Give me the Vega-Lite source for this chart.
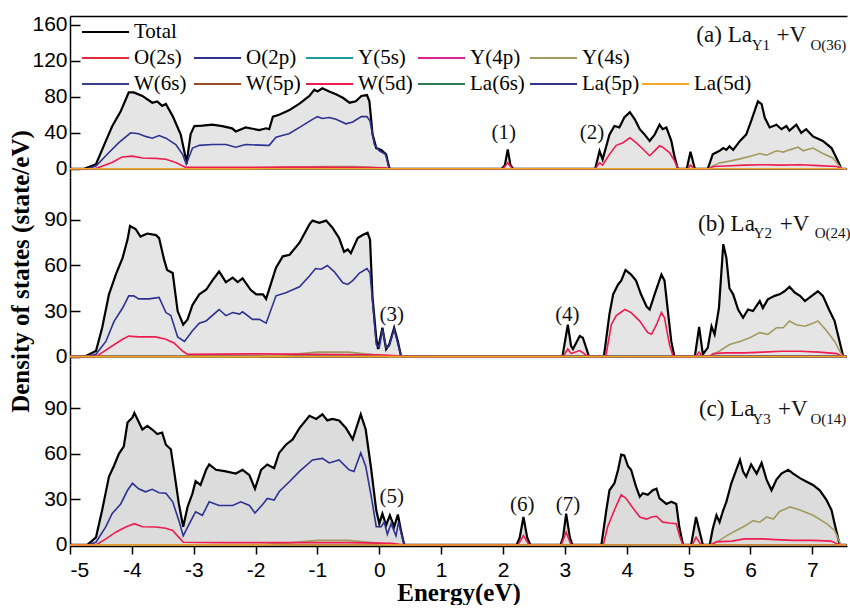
{
"$schema":"https://vega.github.io/schema/vega-lite/v6.json",
"background":"white",
"padding":{"left":8,"top":13,"right":0,"bottom":0},
"spacing":0,
"bounds":"flush",
"config":{"view":{"stroke":null},
"axis":{"grid":false,"domainColor":"#000","domainWidth":1.5,"tickColor":"#000","tickWidth":1.5,"labelFont":"Liberation Sans","labelFontSize":21,"labelColor":"#000","titleFont":"Liberation Serif","titleFontWeight":"bold","titleFontSize":25,"titleColor":"#000"},
"axisY":{"tickSize":-10,"labelPadding":13,"titlePadding":10}},
"resolve":{"scale":{"color":"independent"},"legend":{"color":"independent"}},
"datasets":{
"a":[
{"s":"Total","x":-5,"y":0},{"s":"Total","x":-4.77,"y":0},{"s":"Total","x":-4.58,"y":5},{"s":"Total","x":-4.42,"y":31},{"s":"Total","x":-4.32,"y":47},{"s":"Total","x":-4.18,"y":64},{"s":"Total","x":-4.05,"y":85},{"s":"Total","x":-3.97,"y":85},{"s":"Total","x":-3.83,"y":81},{"s":"Total","x":-3.67,"y":73.5},{"s":"Total","x":-3.59,"y":75},{"s":"Total","x":-3.51,"y":70},{"s":"Total","x":-3.45,"y":72},{"s":"Total","x":-3.34,"y":58.6},{"s":"Total","x":-3.21,"y":38},{"s":"Total","x":-3.13,"y":12},{"s":"Total","x":-3.11,"y":9},{"s":"Total","x":-3.05,"y":38.6},{"s":"Total","x":-2.99,"y":47.5},{"s":"Total","x":-2.86,"y":48},{"s":"Total","x":-2.7,"y":49},{"s":"Total","x":-2.54,"y":47.5},{"s":"Total","x":-2.38,"y":45},{"s":"Total","x":-2.32,"y":41.5},{"s":"Total","x":-2.16,"y":46},{"s":"Total","x":-2.05,"y":44.5},{"s":"Total","x":-1.94,"y":43},{"s":"Total","x":-1.83,"y":45},{"s":"Total","x":-1.78,"y":44},{"s":"Total","x":-1.72,"y":58},{"s":"Total","x":-1.62,"y":60},{"s":"Total","x":-1.46,"y":65},{"s":"Total","x":-1.29,"y":72.5},{"s":"Total","x":-1.13,"y":81},{"s":"Total","x":-1.05,"y":88},{"s":"Total","x":-1,"y":86},{"s":"Total","x":-0.92,"y":89.5},{"s":"Total","x":-0.81,"y":86},{"s":"Total","x":-0.7,"y":83},{"s":"Total","x":-0.59,"y":79},{"s":"Total","x":-0.48,"y":73.5},{"s":"Total","x":-0.38,"y":75},{"s":"Total","x":-0.29,"y":81},{"s":"Total","x":-0.2,"y":82},{"s":"Total","x":-0.16,"y":75},{"s":"Total","x":-0.11,"y":38.5},{"s":"Total","x":-0.05,"y":23},{"s":"Total","x":0.03,"y":21},{"s":"Total","x":0.11,"y":16},{"s":"Total","x":0.16,"y":1},{"s":"Total","x":0.18,"y":0},{"s":"Total","x":1.98,"y":0},{"s":"Total","x":2.03,"y":4},{"s":"Total","x":2.076,"y":21.6},{"s":"Total","x":2.12,"y":4},{"s":"Total","x":2.16,"y":0},{"s":"Total","x":3.49,"y":0},{"s":"Total","x":3.56,"y":19.7},{"s":"Total","x":3.61,"y":10.4},{"s":"Total","x":3.72,"y":38},{"s":"Total","x":3.8,"y":47.5},{"s":"Total","x":3.88,"y":46},{"s":"Total","x":3.96,"y":57},{"s":"Total","x":4.05,"y":63},{"s":"Total","x":4.13,"y":55},{"s":"Total","x":4.21,"y":44},{"s":"Total","x":4.29,"y":38},{"s":"Total","x":4.37,"y":31},{"s":"Total","x":4.45,"y":38},{"s":"Total","x":4.53,"y":49},{"s":"Total","x":4.58,"y":44},{"s":"Total","x":4.64,"y":46},{"s":"Total","x":4.72,"y":31},{"s":"Total","x":4.77,"y":14},{"s":"Total","x":4.82,"y":1},{"s":"Total","x":4.84,"y":0},{"s":"Total","x":4.97,"y":0},{"s":"Total","x":5.03,"y":19},{"s":"Total","x":5.1,"y":0},{"s":"Total","x":5.31,"y":0},{"s":"Total","x":5.39,"y":16},{"s":"Total","x":5.5,"y":20},{"s":"Total","x":5.56,"y":23},{"s":"Total","x":5.61,"y":21},{"s":"Total","x":5.66,"y":25},{"s":"Total","x":5.72,"y":21},{"s":"Total","x":5.83,"y":31},{"s":"Total","x":5.93,"y":38},{"s":"Total","x":6.01,"y":53},{"s":"Total","x":6.12,"y":75},{"s":"Total","x":6.18,"y":72},{"s":"Total","x":6.23,"y":57},{"s":"Total","x":6.31,"y":46},{"s":"Total","x":6.42,"y":49},{"s":"Total","x":6.5,"y":44},{"s":"Total","x":6.58,"y":47.5},{"s":"Total","x":6.63,"y":42.5},{"s":"Total","x":6.74,"y":49},{"s":"Total","x":6.82,"y":40},{"s":"Total","x":6.9,"y":44},{"s":"Total","x":7.01,"y":36},{"s":"Total","x":7.17,"y":31},{"s":"Total","x":7.31,"y":23},{"s":"Total","x":7.39,"y":12},{"s":"Total","x":7.47,"y":0},{"s":"Total","x":7.55,"y":0},
{"s":"O(2s)","x":-5,"y":0},{"s":"O(2s)","x":7.55,"y":0},{"s":"Y(5s)","x":-5,"y":0},{"s":"Y(5s)","x":7.55,"y":0},{"s":"Y(4p)","x":-5,"y":0},{"s":"Y(4p)","x":7.55,"y":0},{"s":"W(6s)","x":-5,"y":0},{"s":"W(6s)","x":7.55,"y":0},{"s":"W(5p)","x":-5,"y":0},{"s":"W(5p)","x":7.55,"y":0},{"s":"La(6s)","x":-5,"y":0},{"s":"La(6s)","x":7.55,"y":0},{"s":"La(5p)","x":-5,"y":0},{"s":"La(5p)","x":7.55,"y":0},{"s":"La(5d)","x":-5,"y":0},{"s":"La(5d)","x":7.55,"y":0},
{"s":"Y(4s)","x":-5,"y":0},{"s":"Y(4s)","x":-2.2,"y":0},{"s":"Y(4s)","x":-1.5,"y":1.5},{"s":"Y(4s)","x":-0.9,"y":2.5},{"s":"Y(4s)","x":-0.4,"y":2.5},{"s":"Y(4s)","x":-0.1,"y":1.5},{"s":"Y(4s)","x":0.15,"y":0},{"s":"Y(4s)","x":5.33,"y":0},{"s":"Y(4s)","x":5.39,"y":3},{"s":"Y(4s)","x":5.5,"y":6.5},{"s":"Y(4s)","x":5.66,"y":8.5},{"s":"Y(4s)","x":5.83,"y":11},{"s":"Y(4s)","x":6,"y":14},{"s":"Y(4s)","x":6.15,"y":17},{"s":"Y(4s)","x":6.26,"y":15},{"s":"Y(4s)","x":6.42,"y":20},{"s":"Y(4s)","x":6.53,"y":18.5},{"s":"Y(4s)","x":6.63,"y":21},{"s":"Y(4s)","x":6.77,"y":24},{"s":"Y(4s)","x":6.85,"y":20},{"s":"Y(4s)","x":7.01,"y":23},{"s":"Y(4s)","x":7.17,"y":17},{"s":"Y(4s)","x":7.33,"y":12},{"s":"Y(4s)","x":7.45,"y":2},{"s":"Y(4s)","x":7.48,"y":0},{"s":"Y(4s)","x":7.55,"y":0},
{"s":"O(2p)","x":-5,"y":0},{"s":"O(2p)","x":-4.72,"y":0},{"s":"O(2p)","x":-4.58,"y":3},{"s":"O(2p)","x":-4.37,"y":18},{"s":"O(2p)","x":-4.21,"y":29},{"s":"O(2p)","x":-4.02,"y":40},{"s":"O(2p)","x":-3.89,"y":39},{"s":"O(2p)","x":-3.78,"y":36},{"s":"O(2p)","x":-3.67,"y":34},{"s":"O(2p)","x":-3.56,"y":37},{"s":"O(2p)","x":-3.45,"y":34},{"s":"O(2p)","x":-3.29,"y":27},{"s":"O(2p)","x":-3.18,"y":16},{"s":"O(2p)","x":-3.12,"y":5},{"s":"O(2p)","x":-3.02,"y":23},{"s":"O(2p)","x":-2.91,"y":26},{"s":"O(2p)","x":-2.7,"y":27},{"s":"O(2p)","x":-2.48,"y":27},{"s":"O(2p)","x":-2.32,"y":24},{"s":"O(2p)","x":-2.16,"y":27},{"s":"O(2p)","x":-1.83,"y":26},{"s":"O(2p)","x":-1.78,"y":26},{"s":"O(2p)","x":-1.67,"y":35},{"s":"O(2p)","x":-1.51,"y":38},{"s":"O(2p)","x":-1.46,"y":39},{"s":"O(2p)","x":-1.29,"y":46},{"s":"O(2p)","x":-1.08,"y":55},{"s":"O(2p)","x":-1,"y":58},{"s":"O(2p)","x":-0.92,"y":56},{"s":"O(2p)","x":-0.81,"y":57},{"s":"O(2p)","x":-0.7,"y":55},{"s":"O(2p)","x":-0.54,"y":50},{"s":"O(2p)","x":-0.43,"y":52},{"s":"O(2p)","x":-0.29,"y":58},{"s":"O(2p)","x":-0.2,"y":58},{"s":"O(2p)","x":-0.15,"y":53},{"s":"O(2p)","x":-0.08,"y":27},{"s":"O(2p)","x":0,"y":20},{"s":"O(2p)","x":0.1,"y":16},{"s":"O(2p)","x":0.16,"y":1},{"s":"O(2p)","x":0.18,"y":0},{"s":"O(2p)","x":7.55,"y":0},
{"s":"W(5d)","x":-5,"y":0},{"s":"W(5d)","x":-4.6,"y":0},{"s":"W(5d)","x":-4.55,"y":1},{"s":"W(5d)","x":-4.32,"y":7},{"s":"W(5d)","x":-4.16,"y":13},{"s":"W(5d)","x":-3.99,"y":14},{"s":"W(5d)","x":-3.83,"y":12},{"s":"W(5d)","x":-3.62,"y":11.5},{"s":"W(5d)","x":-3.45,"y":10.5},{"s":"W(5d)","x":-3.29,"y":7},{"s":"W(5d)","x":-3.13,"y":1.5},{"s":"W(5d)","x":-2.5,"y":1.5},{"s":"W(5d)","x":-1.5,"y":1.8},{"s":"W(5d)","x":-0.5,"y":1.5},{"s":"W(5d)","x":0.1,"y":1},{"s":"W(5d)","x":0.18,"y":0},{"s":"W(5d)","x":2,"y":0},{"s":"W(5d)","x":2.076,"y":6.7},{"s":"W(5d)","x":2.15,"y":0},{"s":"W(5d)","x":3.49,"y":0},{"s":"W(5d)","x":3.56,"y":6.5},{"s":"W(5d)","x":3.61,"y":4},{"s":"W(5d)","x":3.72,"y":16},{"s":"W(5d)","x":3.83,"y":26},{"s":"W(5d)","x":3.94,"y":29},{"s":"W(5d)","x":4.05,"y":34.5},{"s":"W(5d)","x":4.15,"y":29},{"s":"W(5d)","x":4.26,"y":22},{"s":"W(5d)","x":4.37,"y":14.5},{"s":"W(5d)","x":4.53,"y":25.5},{"s":"W(5d)","x":4.58,"y":24},{"s":"W(5d)","x":4.69,"y":18},{"s":"W(5d)","x":4.77,"y":9},{"s":"W(5d)","x":4.83,"y":0},{"s":"W(5d)","x":4.98,"y":0},{"s":"W(5d)","x":5.03,"y":4},{"s":"W(5d)","x":5.09,"y":0},{"s":"W(5d)","x":5.33,"y":0},{"s":"W(5d)","x":5.4,"y":2.5},{"s":"W(5d)","x":5.6,"y":3},{"s":"W(5d)","x":5.9,"y":4},{"s":"W(5d)","x":6.2,"y":4.5},{"s":"W(5d)","x":6.5,"y":4},{"s":"W(5d)","x":6.8,"y":4.5},{"s":"W(5d)","x":7.1,"y":3.5},{"s":"W(5d)","x":7.4,"y":2.5},{"s":"W(5d)","x":7.47,"y":0},{"s":"W(5d)","x":7.55,"y":0}
],
"b":[
{"s":"Total","x":-5,"y":0},{"s":"Total","x":-4.77,"y":0},{"s":"Total","x":-4.58,"y":3.7},{"s":"Total","x":-4.48,"y":19},{"s":"Total","x":-4.37,"y":41},{"s":"Total","x":-4.26,"y":54},{"s":"Total","x":-4.15,"y":65},{"s":"Total","x":-4.07,"y":77},{"s":"Total","x":-4.03,"y":86},{"s":"Total","x":-3.94,"y":84},{"s":"Total","x":-3.86,"y":79},{"s":"Total","x":-3.75,"y":81},{"s":"Total","x":-3.61,"y":80},{"s":"Total","x":-3.56,"y":78},{"s":"Total","x":-3.48,"y":64},{"s":"Total","x":-3.43,"y":57},{"s":"Total","x":-3.34,"y":55},{"s":"Total","x":-3.26,"y":30},{"s":"Total","x":-3.17,"y":21},{"s":"Total","x":-3.1,"y":24.5},{"s":"Total","x":-3.02,"y":34},{"s":"Total","x":-2.91,"y":41},{"s":"Total","x":-2.8,"y":44},{"s":"Total","x":-2.7,"y":50},{"s":"Total","x":-2.59,"y":56},{"s":"Total","x":-2.48,"y":49},{"s":"Total","x":-2.37,"y":52},{"s":"Total","x":-2.29,"y":49},{"s":"Total","x":-2.21,"y":51.5},{"s":"Total","x":-2.08,"y":44},{"s":"Total","x":-1.99,"y":41},{"s":"Total","x":-1.88,"y":41},{"s":"Total","x":-1.83,"y":38},{"s":"Total","x":-1.67,"y":58.5},{"s":"Total","x":-1.56,"y":66},{"s":"Total","x":-1.45,"y":67},{"s":"Total","x":-1.29,"y":75},{"s":"Total","x":-1.13,"y":87},{"s":"Total","x":-1.08,"y":89.5},{"s":"Total","x":-0.97,"y":88},{"s":"Total","x":-0.86,"y":89.5},{"s":"Total","x":-0.76,"y":85},{"s":"Total","x":-0.65,"y":78},{"s":"Total","x":-0.57,"y":69},{"s":"Total","x":-0.51,"y":70.5},{"s":"Total","x":-0.46,"y":68},{"s":"Total","x":-0.35,"y":78},{"s":"Total","x":-0.27,"y":80},{"s":"Total","x":-0.19,"y":81.5},{"s":"Total","x":-0.15,"y":77},{"s":"Total","x":-0.11,"y":39},{"s":"Total","x":-0.05,"y":12.5},{"s":"Total","x":-0.02,"y":5},{"s":"Total","x":0.05,"y":19},{"s":"Total","x":0.11,"y":5},{"s":"Total","x":0.16,"y":8},{"s":"Total","x":0.24,"y":19},{"s":"Total","x":0.3,"y":10},{"s":"Total","x":0.35,"y":0.5},{"s":"Total","x":0.37,"y":0},{"s":"Total","x":2.96,"y":0},{"s":"Total","x":3.047,"y":21},{"s":"Total","x":3.1,"y":7},{"s":"Total","x":3.13,"y":5},{"s":"Total","x":3.24,"y":13.6},{"s":"Total","x":3.29,"y":12.5},{"s":"Total","x":3.39,"y":0},{"s":"Total","x":3.63,"y":0},{"s":"Total","x":3.72,"y":28},{"s":"Total","x":3.78,"y":41},{"s":"Total","x":3.86,"y":47.5},{"s":"Total","x":3.91,"y":50},{"s":"Total","x":3.98,"y":57},{"s":"Total","x":4.07,"y":54},{"s":"Total","x":4.15,"y":50},{"s":"Total","x":4.23,"y":41},{"s":"Total","x":4.32,"y":33},{"s":"Total","x":4.37,"y":31},{"s":"Total","x":4.45,"y":41},{"s":"Total","x":4.56,"y":54},{"s":"Total","x":4.61,"y":50},{"s":"Total","x":4.67,"y":28},{"s":"Total","x":4.72,"y":10},{"s":"Total","x":4.77,"y":0},{"s":"Total","x":5.1,"y":0},{"s":"Total","x":5.17,"y":19.5},{"s":"Total","x":5.23,"y":1.5},{"s":"Total","x":5.31,"y":6},{"s":"Total","x":5.37,"y":20},{"s":"Total","x":5.42,"y":14.7},{"s":"Total","x":5.49,"y":32},{"s":"Total","x":5.56,"y":74},{"s":"Total","x":5.61,"y":65},{"s":"Total","x":5.66,"y":45},{"s":"Total","x":5.72,"y":41},{"s":"Total","x":5.8,"y":31},{"s":"Total","x":5.88,"y":25.6},{"s":"Total","x":5.96,"y":31},{"s":"Total","x":6.04,"y":30},{"s":"Total","x":6.15,"y":36.6},{"s":"Total","x":6.2,"y":32},{"s":"Total","x":6.28,"y":37.7},{"s":"Total","x":6.39,"y":40},{"s":"Total","x":6.47,"y":41},{"s":"Total","x":6.55,"y":43},{"s":"Total","x":6.63,"y":46},{"s":"Total","x":6.72,"y":42},{"s":"Total","x":6.8,"y":40},{"s":"Total","x":6.88,"y":36.6},{"s":"Total","x":6.99,"y":40},{"s":"Total","x":7.09,"y":43},{"s":"Total","x":7.17,"y":40},{"s":"Total","x":7.28,"y":30},{"s":"Total","x":7.36,"y":23.4},{"s":"Total","x":7.44,"y":10},{"s":"Total","x":7.5,"y":0},{"s":"Total","x":7.55,"y":0},
{"s":"O(2s)","x":-5,"y":0},{"s":"O(2s)","x":7.55,"y":0},{"s":"Y(5s)","x":-5,"y":0},{"s":"Y(5s)","x":7.55,"y":0},{"s":"Y(4p)","x":-5,"y":0},{"s":"Y(4p)","x":7.55,"y":0},{"s":"W(6s)","x":-5,"y":0},{"s":"W(6s)","x":7.55,"y":0},{"s":"W(5p)","x":-5,"y":0},{"s":"W(5p)","x":7.55,"y":0},{"s":"La(6s)","x":-5,"y":0},{"s":"La(6s)","x":7.55,"y":0},{"s":"La(5p)","x":-5,"y":0},{"s":"La(5p)","x":7.55,"y":0},{"s":"La(5d)","x":-5,"y":0},{"s":"La(5d)","x":7.55,"y":0},
{"s":"Y(4s)","x":-5,"y":0},{"s":"Y(4s)","x":-2,"y":0},{"s":"Y(4s)","x":-1.4,"y":1.5},{"s":"Y(4s)","x":-1,"y":3},{"s":"Y(4s)","x":-0.5,"y":3},{"s":"Y(4s)","x":-0.15,"y":1.5},{"s":"Y(4s)","x":0.2,"y":0},{"s":"Y(4s)","x":5.33,"y":0},{"s":"Y(4s)","x":5.5,"y":3.7},{"s":"Y(4s)","x":5.66,"y":8},{"s":"Y(4s)","x":5.83,"y":10},{"s":"Y(4s)","x":5.99,"y":12.5},{"s":"Y(4s)","x":6.15,"y":15.8},{"s":"Y(4s)","x":6.28,"y":14.7},{"s":"Y(4s)","x":6.42,"y":19},{"s":"Y(4s)","x":6.53,"y":19},{"s":"Y(4s)","x":6.63,"y":23.4},{"s":"Y(4s)","x":6.74,"y":21},{"s":"Y(4s)","x":6.88,"y":20},{"s":"Y(4s)","x":7.01,"y":22},{"s":"Y(4s)","x":7.09,"y":23.4},{"s":"Y(4s)","x":7.23,"y":17},{"s":"Y(4s)","x":7.36,"y":10},{"s":"Y(4s)","x":7.47,"y":1.5},{"s":"Y(4s)","x":7.5,"y":0},{"s":"Y(4s)","x":7.55,"y":0},
{"s":"O(2p)","x":-5,"y":0},{"s":"O(2p)","x":-4.72,"y":0},{"s":"O(2p)","x":-4.58,"y":1.5},{"s":"O(2p)","x":-4.42,"y":10},{"s":"O(2p)","x":-4.29,"y":23},{"s":"O(2p)","x":-4.15,"y":32},{"s":"O(2p)","x":-4.05,"y":40},{"s":"O(2p)","x":-3.97,"y":40},{"s":"O(2p)","x":-3.89,"y":38},{"s":"O(2p)","x":-3.72,"y":38},{"s":"O(2p)","x":-3.56,"y":39},{"s":"O(2p)","x":-3.45,"y":29},{"s":"O(2p)","x":-3.37,"y":27},{"s":"O(2p)","x":-3.26,"y":13},{"s":"O(2p)","x":-3.15,"y":10},{"s":"O(2p)","x":-3.02,"y":17},{"s":"O(2p)","x":-2.91,"y":22},{"s":"O(2p)","x":-2.8,"y":23.5},{"s":"O(2p)","x":-2.59,"y":31},{"s":"O(2p)","x":-2.48,"y":27},{"s":"O(2p)","x":-2.37,"y":29},{"s":"O(2p)","x":-2.26,"y":28},{"s":"O(2p)","x":-2.21,"y":29.5},{"s":"O(2p)","x":-2.05,"y":24.5},{"s":"O(2p)","x":-1.94,"y":24.5},{"s":"O(2p)","x":-1.83,"y":22},{"s":"O(2p)","x":-1.67,"y":40},{"s":"O(2p)","x":-1.51,"y":42},{"s":"O(2p)","x":-1.29,"y":46},{"s":"O(2p)","x":-1.13,"y":53},{"s":"O(2p)","x":-1.03,"y":58},{"s":"O(2p)","x":-0.94,"y":57.5},{"s":"O(2p)","x":-0.84,"y":60},{"s":"O(2p)","x":-0.73,"y":56},{"s":"O(2p)","x":-0.59,"y":48.6},{"s":"O(2p)","x":-0.51,"y":47.5},{"s":"O(2p)","x":-0.43,"y":50},{"s":"O(2p)","x":-0.32,"y":55},{"s":"O(2p)","x":-0.2,"y":58},{"s":"O(2p)","x":-0.15,"y":55},{"s":"O(2p)","x":-0.11,"y":36.6},{"s":"O(2p)","x":-0.05,"y":8},{"s":"O(2p)","x":0,"y":6},{"s":"O(2p)","x":0.05,"y":18},{"s":"O(2p)","x":0.11,"y":6},{"s":"O(2p)","x":0.16,"y":7},{"s":"O(2p)","x":0.24,"y":18},{"s":"O(2p)","x":0.35,"y":0.5},{"s":"O(2p)","x":0.37,"y":0},{"s":"O(2p)","x":7.55,"y":0},
{"s":"W(5d)","x":-5,"y":0},{"s":"W(5d)","x":-4.6,"y":0},{"s":"W(5d)","x":-4.56,"y":0.5},{"s":"W(5d)","x":-4.32,"y":7},{"s":"W(5d)","x":-4.15,"y":11.4},{"s":"W(5d)","x":-4.05,"y":13.5},{"s":"W(5d)","x":-3.89,"y":13},{"s":"W(5d)","x":-3.62,"y":13},{"s":"W(5d)","x":-3.45,"y":11.4},{"s":"W(5d)","x":-3.32,"y":9},{"s":"W(5d)","x":-3.18,"y":3.7},{"s":"W(5d)","x":-3.1,"y":1.5},{"s":"W(5d)","x":-2,"y":1.8},{"s":"W(5d)","x":-1,"y":1.5},{"s":"W(5d)","x":0,"y":1.2},{"s":"W(5d)","x":0.3,"y":0.5},{"s":"W(5d)","x":0.37,"y":0},{"s":"W(5d)","x":2.97,"y":0},{"s":"W(5d)","x":3.047,"y":5},{"s":"W(5d)","x":3.1,"y":2},{"s":"W(5d)","x":3.24,"y":4},{"s":"W(5d)","x":3.38,"y":0},{"s":"W(5d)","x":3.66,"y":0},{"s":"W(5d)","x":3.75,"y":21},{"s":"W(5d)","x":3.83,"y":27},{"s":"W(5d)","x":3.97,"y":31},{"s":"W(5d)","x":4.07,"y":29},{"s":"W(5d)","x":4.21,"y":23.4},{"s":"W(5d)","x":4.34,"y":15.8},{"s":"W(5d)","x":4.4,"y":14.7},{"s":"W(5d)","x":4.48,"y":21},{"s":"W(5d)","x":4.56,"y":29},{"s":"W(5d)","x":4.61,"y":25.6},{"s":"W(5d)","x":4.69,"y":8},{"s":"W(5d)","x":4.75,"y":0},{"s":"W(5d)","x":5.11,"y":0},{"s":"W(5d)","x":5.17,"y":3},{"s":"W(5d)","x":5.22,"y":0},{"s":"W(5d)","x":5.33,"y":0},{"s":"W(5d)","x":5.4,"y":2},{"s":"W(5d)","x":5.6,"y":2.5},{"s":"W(5d)","x":5.9,"y":2.5},{"s":"W(5d)","x":6.2,"y":3},{"s":"W(5d)","x":6.5,"y":3.5},{"s":"W(5d)","x":6.8,"y":3.5},{"s":"W(5d)","x":7.1,"y":3},{"s":"W(5d)","x":7.4,"y":2},{"s":"W(5d)","x":7.48,"y":0},{"s":"W(5d)","x":7.55,"y":0}
],
"c":[
{"s":"Total","x":-5,"y":0},{"s":"Total","x":-4.72,"y":0},{"s":"Total","x":-4.58,"y":5},{"s":"Total","x":-4.48,"y":23},{"s":"Total","x":-4.37,"y":45},{"s":"Total","x":-4.29,"y":52},{"s":"Total","x":-4.21,"y":60},{"s":"Total","x":-4.13,"y":65},{"s":"Total","x":-4.07,"y":80.6},{"s":"Total","x":-3.99,"y":84},{"s":"Total","x":-3.96,"y":87},{"s":"Total","x":-3.9,"y":82},{"s":"Total","x":-3.83,"y":76},{"s":"Total","x":-3.75,"y":78.4},{"s":"Total","x":-3.67,"y":76},{"s":"Total","x":-3.59,"y":73},{"s":"Total","x":-3.51,"y":74},{"s":"Total","x":-3.45,"y":66},{"s":"Total","x":-3.37,"y":63},{"s":"Total","x":-3.32,"y":49.5},{"s":"Total","x":-3.24,"y":27},{"s":"Total","x":-3.17,"y":12},{"s":"Total","x":-3.1,"y":25},{"s":"Total","x":-3.02,"y":34},{"s":"Total","x":-2.97,"y":42},{"s":"Total","x":-2.89,"y":39.5},{"s":"Total","x":-2.8,"y":49.5},{"s":"Total","x":-2.75,"y":53},{"s":"Total","x":-2.64,"y":49.5},{"s":"Total","x":-2.48,"y":48.4},{"s":"Total","x":-2.32,"y":47},{"s":"Total","x":-2.21,"y":49.5},{"s":"Total","x":-2.1,"y":46},{"s":"Total","x":-2.01,"y":37},{"s":"Total","x":-1.91,"y":49.5},{"s":"Total","x":-1.81,"y":53},{"s":"Total","x":-1.7,"y":50.6},{"s":"Total","x":-1.62,"y":60.6},{"s":"Total","x":-1.51,"y":66},{"s":"Total","x":-1.4,"y":69.5},{"s":"Total","x":-1.29,"y":77},{"s":"Total","x":-1.13,"y":85},{"s":"Total","x":-1.02,"y":83},{"s":"Total","x":-0.92,"y":86},{"s":"Total","x":-0.84,"y":82},{"s":"Total","x":-0.76,"y":83},{"s":"Total","x":-0.65,"y":82},{"s":"Total","x":-0.54,"y":77},{"s":"Total","x":-0.43,"y":69.5},{"s":"Total","x":-0.38,"y":76},{"s":"Total","x":-0.3,"y":86},{"s":"Total","x":-0.22,"y":76},{"s":"Total","x":-0.13,"y":49.5},{"s":"Total","x":-0.05,"y":23},{"s":"Total","x":0,"y":14},{"s":"Total","x":0.05,"y":20.6},{"s":"Total","x":0.11,"y":13},{"s":"Total","x":0.17,"y":19.5},{"s":"Total","x":0.24,"y":12},{"s":"Total","x":0.3,"y":20},{"s":"Total","x":0.35,"y":9.5},{"s":"Total","x":0.4,"y":0.5},{"s":"Total","x":0.42,"y":0},{"s":"Total","x":2.22,"y":0},{"s":"Total","x":2.27,"y":5},{"s":"Total","x":2.33,"y":18.4},{"s":"Total","x":2.39,"y":5},{"s":"Total","x":2.44,"y":0},{"s":"Total","x":2.93,"y":0},{"s":"Total","x":2.97,"y":5},{"s":"Total","x":3.02,"y":20.6},{"s":"Total","x":3.08,"y":5},{"s":"Total","x":3.12,"y":0},{"s":"Total","x":3.59,"y":0},{"s":"Total","x":3.67,"y":23},{"s":"Total","x":3.72,"y":36},{"s":"Total","x":3.8,"y":40.6},{"s":"Total","x":3.86,"y":49.5},{"s":"Total","x":3.91,"y":59.5},{"s":"Total","x":3.96,"y":59},{"s":"Total","x":4.02,"y":51.8},{"s":"Total","x":4.07,"y":49.5},{"s":"Total","x":4.15,"y":38.4},{"s":"Total","x":4.21,"y":31.8},{"s":"Total","x":4.26,"y":34},{"s":"Total","x":4.34,"y":33},{"s":"Total","x":4.42,"y":36},{"s":"Total","x":4.48,"y":37},{"s":"Total","x":4.53,"y":30.6},{"s":"Total","x":4.64,"y":27},{"s":"Total","x":4.72,"y":28.4},{"s":"Total","x":4.8,"y":27},{"s":"Total","x":4.85,"y":11.6},{"s":"Total","x":4.91,"y":0},{"s":"Total","x":5.04,"y":0},{"s":"Total","x":5.12,"y":18.4},{"s":"Total","x":5.23,"y":0},{"s":"Total","x":5.34,"y":0},{"s":"Total","x":5.39,"y":10.7},{"s":"Total","x":5.45,"y":19.5},{"s":"Total","x":5.5,"y":15},{"s":"Total","x":5.56,"y":23},{"s":"Total","x":5.61,"y":28.4},{"s":"Total","x":5.69,"y":40.6},{"s":"Total","x":5.77,"y":49.5},{"s":"Total","x":5.83,"y":56},{"s":"Total","x":5.88,"y":48.4},{"s":"Total","x":5.93,"y":45},{"s":"Total","x":6.01,"y":53},{"s":"Total","x":6.1,"y":47},{"s":"Total","x":6.18,"y":54},{"s":"Total","x":6.26,"y":43},{"s":"Total","x":6.34,"y":36},{"s":"Total","x":6.42,"y":43},{"s":"Total","x":6.5,"y":47},{"s":"Total","x":6.61,"y":49.5},{"s":"Total","x":6.69,"y":47},{"s":"Total","x":6.8,"y":44},{"s":"Total","x":6.9,"y":41.8},{"s":"Total","x":7.01,"y":39.5},{"s":"Total","x":7.12,"y":36},{"s":"Total","x":7.23,"y":29.5},{"s":"Total","x":7.31,"y":23},{"s":"Total","x":7.36,"y":14},{"s":"Total","x":7.44,"y":0.5},{"s":"Total","x":7.46,"y":0},{"s":"Total","x":7.55,"y":0},
{"s":"O(2s)","x":-5,"y":0},{"s":"O(2s)","x":7.55,"y":0},{"s":"Y(5s)","x":-5,"y":0},{"s":"Y(5s)","x":7.55,"y":0},{"s":"Y(4p)","x":-5,"y":0},{"s":"Y(4p)","x":7.55,"y":0},{"s":"W(6s)","x":-5,"y":0},{"s":"W(6s)","x":7.55,"y":0},{"s":"W(5p)","x":-5,"y":0},{"s":"W(5p)","x":7.55,"y":0},{"s":"La(6s)","x":-5,"y":0},{"s":"La(6s)","x":7.55,"y":0},{"s":"La(5p)","x":-5,"y":0},{"s":"La(5p)","x":7.55,"y":0},{"s":"La(5d)","x":-5,"y":0},{"s":"La(5d)","x":7.55,"y":0},
{"s":"Y(4s)","x":-5,"y":0},{"s":"Y(4s)","x":-2,"y":0},{"s":"Y(4s)","x":-1.4,"y":1.5},{"s":"Y(4s)","x":-1,"y":3},{"s":"Y(4s)","x":-0.5,"y":3},{"s":"Y(4s)","x":-0.1,"y":1.5},{"s":"Y(4s)","x":0.25,"y":0},{"s":"Y(4s)","x":5.34,"y":0},{"s":"Y(4s)","x":5.5,"y":3},{"s":"Y(4s)","x":5.61,"y":6},{"s":"Y(4s)","x":5.77,"y":9.5},{"s":"Y(4s)","x":5.93,"y":13},{"s":"Y(4s)","x":6.04,"y":16},{"s":"Y(4s)","x":6.15,"y":15},{"s":"Y(4s)","x":6.26,"y":18.4},{"s":"Y(4s)","x":6.37,"y":17},{"s":"Y(4s)","x":6.47,"y":22},{"s":"Y(4s)","x":6.64,"y":25},{"s":"Y(4s)","x":6.8,"y":23},{"s":"Y(4s)","x":7.01,"y":19.5},{"s":"Y(4s)","x":7.23,"y":14},{"s":"Y(4s)","x":7.36,"y":9.5},{"s":"Y(4s)","x":7.44,"y":2},{"s":"Y(4s)","x":7.46,"y":0},{"s":"Y(4s)","x":7.55,"y":0},
{"s":"O(2p)","x":-5,"y":0},{"s":"O(2p)","x":-4.72,"y":0},{"s":"O(2p)","x":-4.58,"y":1.8},{"s":"O(2p)","x":-4.42,"y":12},{"s":"O(2p)","x":-4.32,"y":20.6},{"s":"O(2p)","x":-4.18,"y":27},{"s":"O(2p)","x":-4.07,"y":36},{"s":"O(2p)","x":-3.99,"y":40.6},{"s":"O(2p)","x":-3.89,"y":37},{"s":"O(2p)","x":-3.78,"y":35},{"s":"O(2p)","x":-3.67,"y":36.6},{"s":"O(2p)","x":-3.56,"y":34.4},{"s":"O(2p)","x":-3.45,"y":34},{"s":"O(2p)","x":-3.34,"y":28.4},{"s":"O(2p)","x":-3.24,"y":16},{"s":"O(2p)","x":-3.17,"y":6},{"s":"O(2p)","x":-3.07,"y":14},{"s":"O(2p)","x":-2.97,"y":21.8},{"s":"O(2p)","x":-2.86,"y":19.5},{"s":"O(2p)","x":-2.75,"y":28.4},{"s":"O(2p)","x":-2.59,"y":26},{"s":"O(2p)","x":-2.37,"y":26},{"s":"O(2p)","x":-2.24,"y":28.4},{"s":"O(2p)","x":-2.1,"y":26},{"s":"O(2p)","x":-2.01,"y":21},{"s":"O(2p)","x":-1.88,"y":27},{"s":"O(2p)","x":-1.81,"y":30.6},{"s":"O(2p)","x":-1.7,"y":29.5},{"s":"O(2p)","x":-1.62,"y":35},{"s":"O(2p)","x":-1.45,"y":41.8},{"s":"O(2p)","x":-1.29,"y":48.4},{"s":"O(2p)","x":-1.08,"y":56},{"s":"O(2p)","x":-0.92,"y":57},{"s":"O(2p)","x":-0.81,"y":54},{"s":"O(2p)","x":-0.65,"y":56},{"s":"O(2p)","x":-0.49,"y":49.5},{"s":"O(2p)","x":-0.41,"y":48.4},{"s":"O(2p)","x":-0.3,"y":60.6},{"s":"O(2p)","x":-0.22,"y":51.8},{"s":"O(2p)","x":-0.13,"y":31.8},{"s":"O(2p)","x":-0.05,"y":12},{"s":"O(2p)","x":0.03,"y":12},{"s":"O(2p)","x":0.08,"y":15},{"s":"O(2p)","x":0.13,"y":7},{"s":"O(2p)","x":0.19,"y":14},{"s":"O(2p)","x":0.27,"y":6},{"s":"O(2p)","x":0.31,"y":15},{"s":"O(2p)","x":0.4,"y":0.5},{"s":"O(2p)","x":0.42,"y":0},{"s":"O(2p)","x":7.55,"y":0},
{"s":"W(5d)","x":-5,"y":0},{"s":"W(5d)","x":-4.6,"y":0},{"s":"W(5d)","x":-4.56,"y":0.5},{"s":"W(5d)","x":-4.42,"y":4},{"s":"W(5d)","x":-4.26,"y":8.4},{"s":"W(5d)","x":-4.1,"y":11.8},{"s":"W(5d)","x":-3.96,"y":14},{"s":"W(5d)","x":-3.83,"y":12},{"s":"W(5d)","x":-3.62,"y":11.8},{"s":"W(5d)","x":-3.45,"y":11},{"s":"W(5d)","x":-3.34,"y":9.5},{"s":"W(5d)","x":-3.24,"y":5},{"s":"W(5d)","x":-3.17,"y":1.8},{"s":"W(5d)","x":-2.5,"y":1.5},{"s":"W(5d)","x":-1.5,"y":1.5},{"s":"W(5d)","x":-0.5,"y":1.5},{"s":"W(5d)","x":0.2,"y":1},{"s":"W(5d)","x":0.42,"y":0},{"s":"W(5d)","x":2.24,"y":0},{"s":"W(5d)","x":2.33,"y":6.2},{"s":"W(5d)","x":2.42,"y":0},{"s":"W(5d)","x":2.94,"y":0},{"s":"W(5d)","x":3.02,"y":8.4},{"s":"W(5d)","x":3.1,"y":0},{"s":"W(5d)","x":3.62,"y":0},{"s":"W(5d)","x":3.69,"y":11.8},{"s":"W(5d)","x":3.8,"y":23},{"s":"W(5d)","x":3.91,"y":33},{"s":"W(5d)","x":3.99,"y":30.6},{"s":"W(5d)","x":4.07,"y":26},{"s":"W(5d)","x":4.21,"y":18.4},{"s":"W(5d)","x":4.32,"y":17},{"s":"W(5d)","x":4.4,"y":18.4},{"s":"W(5d)","x":4.48,"y":18.9},{"s":"W(5d)","x":4.58,"y":15},{"s":"W(5d)","x":4.69,"y":14.4},{"s":"W(5d)","x":4.8,"y":14},{"s":"W(5d)","x":4.86,"y":5},{"s":"W(5d)","x":4.91,"y":0},{"s":"W(5d)","x":5.06,"y":0},{"s":"W(5d)","x":5.12,"y":5},{"s":"W(5d)","x":5.2,"y":0},{"s":"W(5d)","x":5.36,"y":0},{"s":"W(5d)","x":5.45,"y":2},{"s":"W(5d)","x":5.7,"y":2.5},{"s":"W(5d)","x":5.9,"y":4},{"s":"W(5d)","x":6.2,"y":4},{"s":"W(5d)","x":6.4,"y":3.5},{"s":"W(5d)","x":6.7,"y":3},{"s":"W(5d)","x":7,"y":3},{"s":"W(5d)","x":7.3,"y":2.5},{"s":"W(5d)","x":7.44,"y":0},{"s":"W(5d)","x":7.55,"y":0}
],
"notes":[
{"p":"a","x":2.01,"y":40,"t":"(1)"},{"p":"a","x":3.44,"y":40,"t":"(2)"},
{"p":"b","x":0.2,"y":27.2,"t":"(3)"},{"p":"b","x":3.04,"y":27.2,"t":"(4)"},
{"p":"c","x":0.2,"y":31.3,"t":"(5)"},{"p":"c","x":2.31,"y":26.5,"t":"(6)"},{"p":"c","x":3.05,"y":26.5,"t":"(7)"}
],
"heads":[
{"p":"a","x":5.125,"y":141.4,"t":"(a) La"},{"p":"a","x":6.419,"y":141.4,"t":"+V"},
{"p":"b","x":5.152,"y":82.7,"t":"(b) La"},{"p":"b","x":6.472,"y":82.7,"t":"+V"},
{"p":"c","x":5.167,"y":85,"t":"(c) La"},{"p":"c","x":6.445,"y":85,"t":"+V"}
],
"subs":[
{"p":"a","x":6.02,"y":132.5,"t":"Y1"},{"p":"a","x":6.969,"y":132.5,"t":"O(36)"},
{"p":"b","x":6.05,"y":77.9,"t":"Y2"},{"p":"b","x":7.039,"y":77.9,"t":"O(24)"},
{"p":"c","x":6.03,"y":79.5,"t":"Y3"},{"p":"c","x":6.969,"y":79.5,"t":"O(14)"}
]
},
"vconcat":[
{"width":777,"height":161,
"layer":[
{"data":{"name":"a"},"transform":[{"filter":"datum.s == 'Total'"}],"mark":{"type":"area","fill":"#e5e5e5"},
"encoding":{"x":{"field":"x","type":"quantitative","scale":{"domain":[-5,7.56],"nice":false,"zero":false},"axis":{"orient":"top","labels":false,"ticks":false,"title":null}},"y":{"field":"y","type":"quantitative","scale":{"domain":[-9.2,170],"nice":false,"zero":false},"axis":{"values":[0,40,80,120,160],"title":null}},"y2":{"datum":0}}},
{"data":{"name":"a"},"transform":[{"filter":"datum.s == 'Total'"}],"mark":{"type":"line","strokeWidth":2.2},
"encoding":{"x":{"field":"x","type":"quantitative","scale":{"domain":[-5,7.56],"nice":false,"zero":false},"axis":{"orient":"top","labels":false,"ticks":false,"title":null}},"y":{"field":"y","type":"quantitative","scale":{"domain":[-9.2,170],"nice":false,"zero":false},"axis":{"values":[0,40,80,120,160],"title":null}},
"color":{"field":"s","type":"nominal","scale":{"domain":["Total","_1","_2","_3","_4","_5","O(2s)","O(2p)","Y(5s)","Y(4p)","Y(4s)","_6","W(6s)","W(5p)","W(5d)","La(6s)","La(5p)","La(5d)"],"range":["#000000","transparent","transparent","transparent","transparent","transparent","#e8283c","#2e3192","#1f9a9a","#e0208c","#a39a62","transparent","#3d3d8c","#9c4a2c","#ee1c50","#2e7d52","#35358a","#f5a623"]},
"legend":{"orient":"none","direction":"horizontal","legendX":11,"legendY":6,"columns":6,"gridAlign":"all","symbolType":"stroke","symbolSize":2209,"symbolStrokeWidth":2,"clipHeight":20,"labelFont":"Liberation Serif","labelFontSize":21,"labelColor":"#000","labelOffset":4,"columnPadding":1,"rowPadding":5,"title":null,"padding":0,"labelLimit":200,"labelExpr":"indexof(datum.label,'_') == 0 ? '' : datum.label"}}}},
{"data":{"name":"a"},"transform":[{"filter":"datum.s != 'Total' && datum.s != 'La(5d)'"}],"mark":{"type":"line","strokeWidth":1.6},
"encoding":{"x":{"field":"x","type":"quantitative","scale":{"domain":[-5,7.56],"nice":false,"zero":false},"axis":{"orient":"top","labels":false,"ticks":false,"title":null}},"y":{"field":"y","type":"quantitative","scale":{"domain":[-9.2,170],"nice":false,"zero":false},"axis":{"values":[0,40,80,120,160],"title":null}},
"color":{"field":"s","type":"nominal","scale":{"domain":["Total","_1","_2","_3","_4","_5","O(2s)","O(2p)","Y(5s)","Y(4p)","Y(4s)","_6","W(6s)","W(5p)","W(5d)","La(6s)","La(5p)","La(5d)"],"range":["#000000","transparent","transparent","transparent","transparent","transparent","#e8283c","#2e3192","#1f9a9a","#e0208c","#a39a62","transparent","#3d3d8c","#9c4a2c","#ee1c50","#2e7d52","#35358a","#f5a623"]},
"legend":{"orient":"none","direction":"horizontal","legendX":11,"legendY":6,"columns":6,"gridAlign":"all","symbolType":"stroke","symbolSize":2209,"symbolStrokeWidth":2,"clipHeight":20,"labelFont":"Liberation Serif","labelFontSize":21,"labelColor":"#000","labelOffset":4,"columnPadding":1,"rowPadding":5,"title":null,"padding":0,"labelLimit":200,"labelExpr":"indexof(datum.label,'_') == 0 ? '' : datum.label"}}}},
{"data":{"name":"a"},"transform":[{"filter":"datum.s == 'La(5d)'"}],"mark":{"type":"line","strokeWidth":1.6},
"encoding":{"x":{"field":"x","type":"quantitative","scale":{"domain":[-5,7.56],"nice":false,"zero":false},"axis":{"orient":"top","labels":false,"ticks":false,"title":null}},"y":{"field":"y","type":"quantitative","scale":{"domain":[-9.2,170],"nice":false,"zero":false},"axis":{"values":[0,40,80,120,160],"title":null}},
"color":{"field":"s","type":"nominal","scale":{"domain":["Total","_1","_2","_3","_4","_5","O(2s)","O(2p)","Y(5s)","Y(4p)","Y(4s)","_6","W(6s)","W(5p)","W(5d)","La(6s)","La(5p)","La(5d)"],"range":["#000000","transparent","transparent","transparent","transparent","transparent","#e8283c","#2e3192","#1f9a9a","#e0208c","#a39a62","transparent","#3d3d8c","#9c4a2c","#ee1c50","#2e7d52","#35358a","#f5a623"]},
"legend":{"orient":"none","direction":"horizontal","legendX":11,"legendY":6,"columns":6,"gridAlign":"all","symbolType":"stroke","symbolSize":2209,"symbolStrokeWidth":2,"clipHeight":20,"labelFont":"Liberation Serif","labelFontSize":21,"labelColor":"#000","labelOffset":4,"columnPadding":1,"rowPadding":5,"title":null,"padding":0,"labelLimit":200,"labelExpr":"indexof(datum.label,'_') == 0 ? '' : datum.label"}}}},
{"data":{"name":"notes"},"transform":[{"filter":"datum.p == 'a'"}],"mark":{"type":"text","font":"Liberation Serif","fontSize":21,"color":"#111","align":"center","baseline":"middle"},
"encoding":{"x":{"field":"x","type":"quantitative","scale":{"domain":[-5,7.56],"nice":false,"zero":false},"axis":{"orient":"top","labels":false,"ticks":false,"title":null}},"y":{"field":"y","type":"quantitative","scale":{"domain":[-9.2,170],"nice":false,"zero":false},"axis":{"values":[0,40,80,120,160],"title":null}},"text":{"field":"t","type":"nominal"}}},
{"data":{"name":"heads"},"transform":[{"filter":"datum.p == 'a'"}],"mark":{"type":"text","font":"Liberation Serif","fontSize":23,"color":"#111","align":"left","baseline":"alphabetic"},
"encoding":{"x":{"field":"x","type":"quantitative","scale":{"domain":[-5,7.56],"nice":false,"zero":false},"axis":{"orient":"top","labels":false,"ticks":false,"title":null}},"y":{"field":"y","type":"quantitative","scale":{"domain":[-9.2,170],"nice":false,"zero":false},"axis":{"values":[0,40,80,120,160],"title":null}},"text":{"field":"t","type":"nominal"}}},
{"data":{"name":"subs"},"transform":[{"filter":"datum.p == 'a'"}],"mark":{"type":"text","font":"Liberation Serif","fontSize":15,"color":"#111","align":"left","baseline":"alphabetic"},
"encoding":{"x":{"field":"x","type":"quantitative","scale":{"domain":[-5,7.56],"nice":false,"zero":false},"axis":{"orient":"top","labels":false,"ticks":false,"title":null}},"y":{"field":"y","type":"quantitative","scale":{"domain":[-9.2,170],"nice":false,"zero":false},"axis":{"values":[0,40,80,120,160],"title":null}},"text":{"field":"t","type":"nominal"}}}
]},
{"width":777,"height":188,
"layer":[
{"data":{"name":"b"},"transform":[{"filter":"datum.s == 'Total'"}],"mark":{"type":"area","fill":"#e5e5e5"},
"encoding":{"x":{"field":"x","type":"quantitative","scale":{"domain":[-5,7.56],"nice":false,"zero":false},"axis":null},"y":{"field":"y","type":"quantitative","scale":{"domain":[-5.5,118.2],"nice":false,"zero":false},"axis":{"values":[0,30,60,90],"title":"Density of states (state/eV)"}},"y2":{"datum":0}}},
{"data":{"name":"b"},"transform":[{"filter":"datum.s == 'Total'"}],"mark":{"type":"line","strokeWidth":2.2},
"encoding":{"x":{"field":"x","type":"quantitative","scale":{"domain":[-5,7.56],"nice":false,"zero":false},"axis":null},"y":{"field":"y","type":"quantitative","scale":{"domain":[-5.5,118.2],"nice":false,"zero":false},"axis":{"values":[0,30,60,90],"title":"Density of states (state/eV)"}},
"color":{"field":"s","type":"nominal","scale":{"domain":["Total","_1","_2","_3","_4","_5","O(2s)","O(2p)","Y(5s)","Y(4p)","Y(4s)","_6","W(6s)","W(5p)","W(5d)","La(6s)","La(5p)","La(5d)"],"range":["#000000","transparent","transparent","transparent","transparent","transparent","#e8283c","#2e3192","#1f9a9a","#e0208c","#a39a62","transparent","#3d3d8c","#9c4a2c","#ee1c50","#2e7d52","#35358a","#f5a623"]},"legend":null}}},
{"data":{"name":"b"},"transform":[{"filter":"datum.s != 'Total' && datum.s != 'La(5d)'"}],"mark":{"type":"line","strokeWidth":1.6},
"encoding":{"x":{"field":"x","type":"quantitative","scale":{"domain":[-5,7.56],"nice":false,"zero":false},"axis":null},"y":{"field":"y","type":"quantitative","scale":{"domain":[-5.5,118.2],"nice":false,"zero":false},"axis":{"values":[0,30,60,90],"title":"Density of states (state/eV)"}},
"color":{"field":"s","type":"nominal","scale":{"domain":["Total","_1","_2","_3","_4","_5","O(2s)","O(2p)","Y(5s)","Y(4p)","Y(4s)","_6","W(6s)","W(5p)","W(5d)","La(6s)","La(5p)","La(5d)"],"range":["#000000","transparent","transparent","transparent","transparent","transparent","#e8283c","#2e3192","#1f9a9a","#e0208c","#a39a62","transparent","#3d3d8c","#9c4a2c","#ee1c50","#2e7d52","#35358a","#f5a623"]},"legend":null}}},
{"data":{"name":"b"},"transform":[{"filter":"datum.s == 'La(5d)'"}],"mark":{"type":"line","strokeWidth":1.6},
"encoding":{"x":{"field":"x","type":"quantitative","scale":{"domain":[-5,7.56],"nice":false,"zero":false},"axis":null},"y":{"field":"y","type":"quantitative","scale":{"domain":[-5.5,118.2],"nice":false,"zero":false},"axis":{"values":[0,30,60,90],"title":"Density of states (state/eV)"}},
"color":{"field":"s","type":"nominal","scale":{"domain":["Total","_1","_2","_3","_4","_5","O(2s)","O(2p)","Y(5s)","Y(4p)","Y(4s)","_6","W(6s)","W(5p)","W(5d)","La(6s)","La(5p)","La(5d)"],"range":["#000000","transparent","transparent","transparent","transparent","transparent","#e8283c","#2e3192","#1f9a9a","#e0208c","#a39a62","transparent","#3d3d8c","#9c4a2c","#ee1c50","#2e7d52","#35358a","#f5a623"]},"legend":null}}},
{"data":{"name":"notes"},"transform":[{"filter":"datum.p == 'b'"}],"mark":{"type":"text","font":"Liberation Serif","fontSize":21,"color":"#111","align":"center","baseline":"middle"},
"encoding":{"x":{"field":"x","type":"quantitative","scale":{"domain":[-5,7.56],"nice":false,"zero":false},"axis":null},"y":{"field":"y","type":"quantitative","scale":{"domain":[-5.5,118.2],"nice":false,"zero":false},"axis":{"values":[0,30,60,90],"title":"Density of states (state/eV)"}},"text":{"field":"t","type":"nominal"}}},
{"data":{"name":"heads"},"transform":[{"filter":"datum.p == 'b'"}],"mark":{"type":"text","font":"Liberation Serif","fontSize":23,"color":"#111","align":"left","baseline":"alphabetic"},
"encoding":{"x":{"field":"x","type":"quantitative","scale":{"domain":[-5,7.56],"nice":false,"zero":false},"axis":null},"y":{"field":"y","type":"quantitative","scale":{"domain":[-5.5,118.2],"nice":false,"zero":false},"axis":{"values":[0,30,60,90],"title":"Density of states (state/eV)"}},"text":{"field":"t","type":"nominal"}}},
{"data":{"name":"subs"},"transform":[{"filter":"datum.p == 'b'"}],"mark":{"type":"text","font":"Liberation Serif","fontSize":15,"color":"#111","align":"left","baseline":"alphabetic"},
"encoding":{"x":{"field":"x","type":"quantitative","scale":{"domain":[-5,7.56],"nice":false,"zero":false},"axis":null},"y":{"field":"y","type":"quantitative","scale":{"domain":[-5.5,118.2],"nice":false,"zero":false},"axis":{"values":[0,30,60,90],"title":"Density of states (state/eV)"}},"text":{"field":"t","type":"nominal"}}}
]},
{"width":777,"height":181,
"layer":[
{"data":{"name":"c"},"transform":[{"filter":"datum.s == 'Total'"}],"mark":{"type":"area","fill":"#dcdcdc"},
"encoding":{"x":{"field":"x","type":"quantitative","scale":{"domain":[-5,7.56],"nice":false,"zero":false},"axis":{"values":[-5,-4,-3,-2,-1,0,1,2,3,4,5,6,7],"tickSize":8,"labelPadding":5,"title":"Energy(eV)","titlePadding":0,"labelExpr":"datum.value < 0 ? '-' + abs(datum.value) : '' + datum.value"}},"y":{"field":"y","type":"quantitative","scale":{"domain":[-0.7,118.5],"nice":false,"zero":false},"axis":{"values":[0,30,60,90],"title":null}},"y2":{"datum":0}}},
{"data":{"name":"c"},"transform":[{"filter":"datum.s == 'Total'"}],"mark":{"type":"line","strokeWidth":2.2},
"encoding":{"x":{"field":"x","type":"quantitative","scale":{"domain":[-5,7.56],"nice":false,"zero":false},"axis":{"values":[-5,-4,-3,-2,-1,0,1,2,3,4,5,6,7],"tickSize":8,"labelPadding":5,"title":"Energy(eV)","titlePadding":0,"labelExpr":"datum.value < 0 ? '-' + abs(datum.value) : '' + datum.value"}},"y":{"field":"y","type":"quantitative","scale":{"domain":[-0.7,118.5],"nice":false,"zero":false},"axis":{"values":[0,30,60,90],"title":null}},
"color":{"field":"s","type":"nominal","scale":{"domain":["Total","_1","_2","_3","_4","_5","O(2s)","O(2p)","Y(5s)","Y(4p)","Y(4s)","_6","W(6s)","W(5p)","W(5d)","La(6s)","La(5p)","La(5d)"],"range":["#000000","transparent","transparent","transparent","transparent","transparent","#e8283c","#2e3192","#1f9a9a","#e0208c","#a39a62","transparent","#3d3d8c","#9c4a2c","#ee1c50","#2e7d52","#35358a","#f5a623"]},"legend":null}}},
{"data":{"name":"c"},"transform":[{"filter":"datum.s != 'Total' && datum.s != 'La(5d)'"}],"mark":{"type":"line","strokeWidth":1.6},
"encoding":{"x":{"field":"x","type":"quantitative","scale":{"domain":[-5,7.56],"nice":false,"zero":false},"axis":{"values":[-5,-4,-3,-2,-1,0,1,2,3,4,5,6,7],"tickSize":8,"labelPadding":5,"title":"Energy(eV)","titlePadding":0,"labelExpr":"datum.value < 0 ? '-' + abs(datum.value) : '' + datum.value"}},"y":{"field":"y","type":"quantitative","scale":{"domain":[-0.7,118.5],"nice":false,"zero":false},"axis":{"values":[0,30,60,90],"title":null}},
"color":{"field":"s","type":"nominal","scale":{"domain":["Total","_1","_2","_3","_4","_5","O(2s)","O(2p)","Y(5s)","Y(4p)","Y(4s)","_6","W(6s)","W(5p)","W(5d)","La(6s)","La(5p)","La(5d)"],"range":["#000000","transparent","transparent","transparent","transparent","transparent","#e8283c","#2e3192","#1f9a9a","#e0208c","#a39a62","transparent","#3d3d8c","#9c4a2c","#ee1c50","#2e7d52","#35358a","#f5a623"]},"legend":null}}},
{"data":{"name":"c"},"transform":[{"filter":"datum.s == 'La(5d)'"}],"mark":{"type":"line","strokeWidth":1.6},
"encoding":{"x":{"field":"x","type":"quantitative","scale":{"domain":[-5,7.56],"nice":false,"zero":false},"axis":{"values":[-5,-4,-3,-2,-1,0,1,2,3,4,5,6,7],"tickSize":8,"labelPadding":5,"title":"Energy(eV)","titlePadding":0,"labelExpr":"datum.value < 0 ? '-' + abs(datum.value) : '' + datum.value"}},"y":{"field":"y","type":"quantitative","scale":{"domain":[-0.7,118.5],"nice":false,"zero":false},"axis":{"values":[0,30,60,90],"title":null}},
"color":{"field":"s","type":"nominal","scale":{"domain":["Total","_1","_2","_3","_4","_5","O(2s)","O(2p)","Y(5s)","Y(4p)","Y(4s)","_6","W(6s)","W(5p)","W(5d)","La(6s)","La(5p)","La(5d)"],"range":["#000000","transparent","transparent","transparent","transparent","transparent","#e8283c","#2e3192","#1f9a9a","#e0208c","#a39a62","transparent","#3d3d8c","#9c4a2c","#ee1c50","#2e7d52","#35358a","#f5a623"]},"legend":null}}},
{"data":{"name":"notes"},"transform":[{"filter":"datum.p == 'c'"}],"mark":{"type":"text","font":"Liberation Serif","fontSize":21,"color":"#111","align":"center","baseline":"middle"},
"encoding":{"x":{"field":"x","type":"quantitative","scale":{"domain":[-5,7.56],"nice":false,"zero":false},"axis":{"values":[-5,-4,-3,-2,-1,0,1,2,3,4,5,6,7],"tickSize":8,"labelPadding":5,"title":"Energy(eV)","titlePadding":0,"labelExpr":"datum.value < 0 ? '-' + abs(datum.value) : '' + datum.value"}},"y":{"field":"y","type":"quantitative","scale":{"domain":[-0.7,118.5],"nice":false,"zero":false},"axis":{"values":[0,30,60,90],"title":null}},"text":{"field":"t","type":"nominal"}}},
{"data":{"name":"heads"},"transform":[{"filter":"datum.p == 'c'"}],"mark":{"type":"text","font":"Liberation Serif","fontSize":23,"color":"#111","align":"left","baseline":"alphabetic"},
"encoding":{"x":{"field":"x","type":"quantitative","scale":{"domain":[-5,7.56],"nice":false,"zero":false},"axis":{"values":[-5,-4,-3,-2,-1,0,1,2,3,4,5,6,7],"tickSize":8,"labelPadding":5,"title":"Energy(eV)","titlePadding":0,"labelExpr":"datum.value < 0 ? '-' + abs(datum.value) : '' + datum.value"}},"y":{"field":"y","type":"quantitative","scale":{"domain":[-0.7,118.5],"nice":false,"zero":false},"axis":{"values":[0,30,60,90],"title":null}},"text":{"field":"t","type":"nominal"}}},
{"data":{"name":"subs"},"transform":[{"filter":"datum.p == 'c'"}],"mark":{"type":"text","font":"Liberation Serif","fontSize":15,"color":"#111","align":"left","baseline":"alphabetic"},
"encoding":{"x":{"field":"x","type":"quantitative","scale":{"domain":[-5,7.56],"nice":false,"zero":false},"axis":{"values":[-5,-4,-3,-2,-1,0,1,2,3,4,5,6,7],"tickSize":8,"labelPadding":5,"title":"Energy(eV)","titlePadding":0,"labelExpr":"datum.value < 0 ? '-' + abs(datum.value) : '' + datum.value"}},"y":{"field":"y","type":"quantitative","scale":{"domain":[-0.7,118.5],"nice":false,"zero":false},"axis":{"values":[0,30,60,90],"title":null}},"text":{"field":"t","type":"nominal"}}}
]}
]
}
